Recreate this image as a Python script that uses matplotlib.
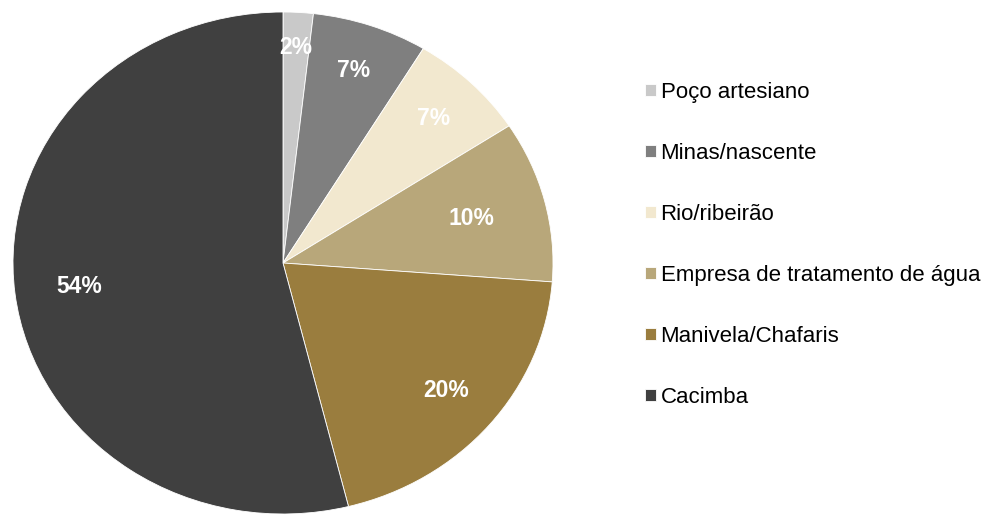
import numpy as np
import matplotlib.pyplot as plt

# fontes de água (ordem horária a partir do topo)
labels = ['Poço artesiano', 'Minas/nascente', 'Rio/ribeirão',
          'Empresa de tratamento de água', 'Manivela/Chafaris', 'Cacimba']
shares = [1.8, 6.9, 7.1, 10.4, 19.9, 53.9]
colors = ['#c9c9c9', '#7f7f7f', '#f2e8cf', '#b8a77a', '#9a7d3e', '#404040']
# distância radial de cada rótulo de percentual
label_dist = [0.86, 0.81, 0.80, 0.72, 0.79, 0.76]

plt.rcParams['font.family'] = ['Liberation Sans', 'DejaVu Sans']

fig = plt.figure(figsize=(9.87, 5.16), dpi=100)
ax = fig.add_axes([13 / 987, 2 / 516, 540 / 987, 502 / 516])

wedges, texts, autotexts = ax.pie(
    shares, colors=colors, startangle=90, counterclock=False,
    autopct='%.0f%%', pctdistance=0.79,
    wedgeprops=dict(edgecolor='white', linewidth=0.6),
    textprops=dict(color='white', fontsize=16.5, fontweight='bold'))

# reposiciona os rótulos no ângulo médio de cada fatia
for w, t, d in zip(wedges, autotexts, label_dist):
    ang = np.deg2rad((w.theta1 + w.theta2) / 2)
    t.set_position((d * np.cos(ang), d * np.sin(ang)))

# pizza levemente achatada, ocupa toda a área do eixo
ax.set_aspect('auto')
ax.set_xlim(-1, 1)
ax.set_ylim(-1, 1)

fig.legend(wedges, labels, loc='center left',
           bbox_to_anchor=(645 / 987, 1 - 245 / 516),
           frameon=False, fontsize=16, borderpad=0, borderaxespad=0,
           handlelength=0.5, handleheight=0.45, handletextpad=0.2,
           labelspacing=1.8)

fig.savefig('out.png', dpi=100)
